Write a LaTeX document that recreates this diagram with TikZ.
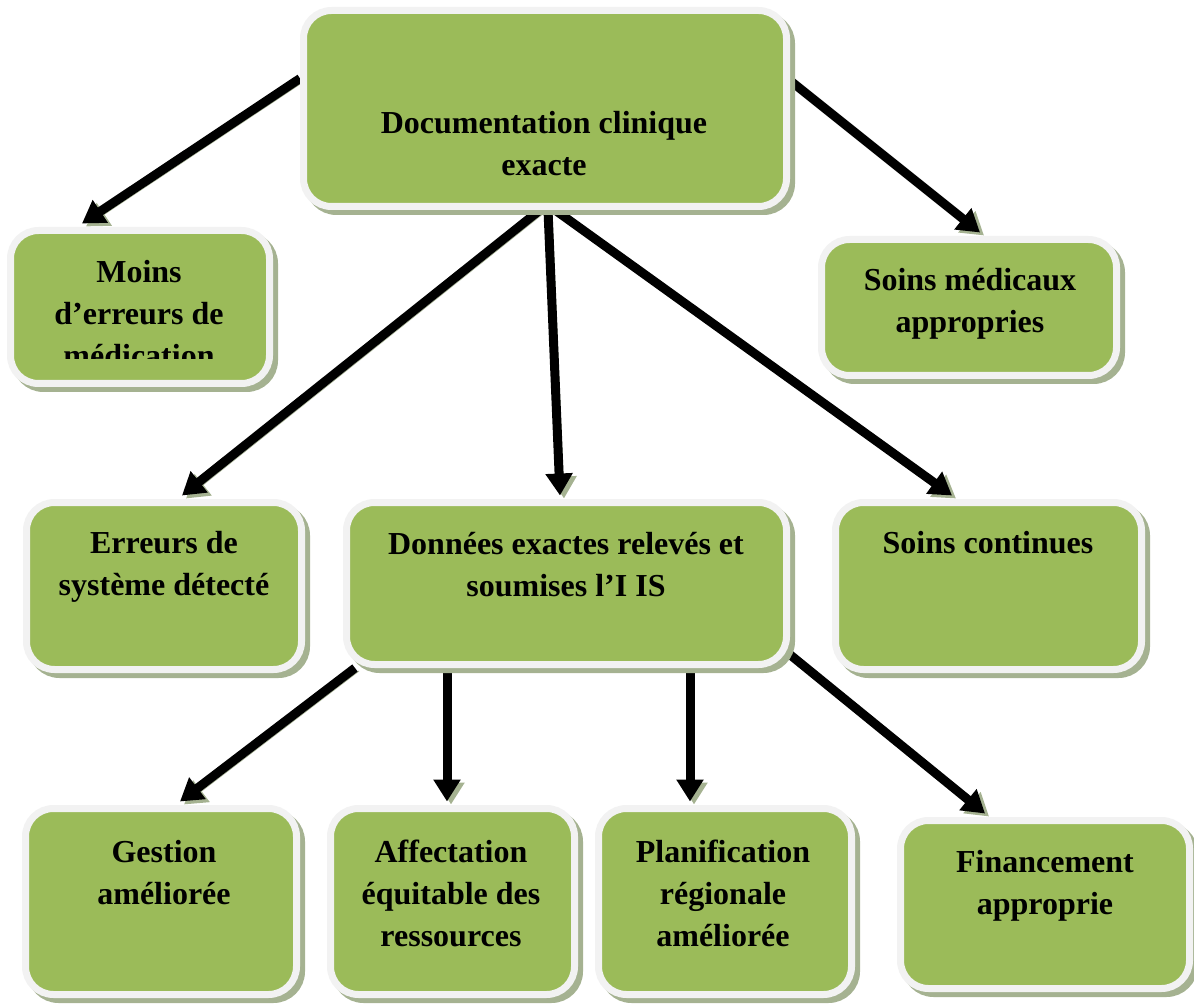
\documentclass[tikz,border=0pt]{standalone}
\usepackage{fontspec}
\setmainfont{Liberation Serif}
\usetikzlibrary{arrows.meta,backgrounds}
\definecolor{vert}{RGB}{155,187,89}
\definecolor{bord}{RGB}{242,242,242}
\definecolor{ombre}{RGB}{165,178,145}

\begin{document}
\begin{tikzpicture}[x=0.5pt,y=-0.5pt]
    \tikzstyle{bloc} = [rectangle, rounded corners=14pt, fill=vert, draw=bord, line width=3.5pt, inner sep=0pt,
        preaction={fill=ombre, draw=ombre, transform canvas={shift={(2.5pt,-2.5pt)}}}]
    \tikzstyle{txt} = [align=center, inner sep=0pt, anchor=north, font=\fontsize{16}{21}\selectfont\bfseries]
    \tikzstyle{fleche} = [line width=4.5pt, -{Triangle[length=11pt,width=13pt]},
        preaction={draw=ombre, transform canvas={shift={(2pt,-1.5pt)}}}]

    \useasboundingbox (0,0) rectangle (1194,1005);

    % blocs
    \node[bloc, minimum width=241.5pt, minimum height=98pt] (doc) at (545,108.5) {};
    \node[bloc, minimum width=129.5pt, minimum height=76.5pt] (moins) at (140,307) {};
    \node[bloc, minimum width=147.5pt, minimum height=68pt] (soinsmed) at (969,307.5) {};
    \node[bloc, minimum width=137.5pt, minimum height=83.5pt] (erreurs) at (164,586) {};
    \node[bloc, minimum width=220pt, minimum height=81pt] (donnees) at (566.5,583.5) {};
    \node[bloc, minimum width=153pt, minimum height=83.5pt] (soinscont) at (988.5,586) {};
    \node[bloc, minimum width=135.5pt, minimum height=93pt] (gestion) at (161,901.5) {};
    \node[bloc, minimum width=122pt, minimum height=93pt] (affect) at (452.5,901.5) {};
    \node[bloc, minimum width=126.5pt, minimum height=93pt] (planif) at (725,901.5) {};
    \node[bloc, minimum width=144.5pt, minimum height=84pt] (financ) at (1045,904.5) {};

    % textes
    \node[txt] (docT) at (544,103.6) {\strut Documentation clinique\\exacte};
    \begin{scope}
        \clip (0,0) rectangle (1194,359);
        \node[txt] (moinsT) at (139,252.3) {\strut Moins\\d’erreurs de\\médication};
    \end{scope}
    \node[txt] (soinsmedT) at (970,260.6) {\strut Soins médicaux\\appropries};
    \node[txt] (erreursT) at (164,523.6) {\strut Erreurs de\\système détecté};
    \node[txt] (donneesT) at (566,524.6) {\strut Données exactes relevés et\\soumises l’I IS};
    \node[txt] (soinscontT) at (988,523.6) {\strut Soins continues};
    \node[txt] (gestionT) at (164,832.6) {\strut Gestion\\améliorée};
    \node[txt] (affectT) at (451,832.6) {\strut Affectation\\équitable des\\ressources};
    \node[txt] (planifT) at (723,832.6) {\strut Planification\\régionale\\améliorée};
    \node[txt] (financT) at (1045,842.6) {\strut Financement\\approprie};

    % flèches
    \begin{scope}[on background layer]
        \draw[fleche] ([yshift=15pt]doc.west) -- ([xshift=-29pt,yshift=1.75pt]moins.north);
        \draw[fleche] ([yshift=14pt]doc.east) -- ([xshift=5.5pt,yshift=1.75pt]soinsmed.north);
        \draw[fleche] ([xshift=-2.5pt]doc.south) -- ([xshift=9pt,yshift=1.75pt]erreurs.north);
        \draw[fleche] ([xshift=1.5pt]doc.south) -- ([xshift=-3.25pt,yshift=1.75pt]donnees.north);
        \draw[fleche] ([xshift=5pt]doc.south) -- ([xshift=-18.25pt,yshift=1.75pt]soinscont.north);
        \draw[fleche] ([xshift=6pt]donnees.south west) -- ([xshift=9.5pt,yshift=1.75pt]gestion.north);
        \draw[fleche] ([xshift=-2.75pt]affect.north |- donnees.south) -- ([xshift=-2.75pt,yshift=1.75pt]affect.north);
        \draw[fleche] ([xshift=-17.5pt]planif.north |- donnees.south) -- ([xshift=-17.5pt,yshift=1.75pt]planif.north);
        \draw[fleche] ([xshift=-5pt,yshift=10.75pt]donnees.south east) -- ([xshift=-30pt,yshift=1.75pt]financ.north);
    \end{scope}
\end{tikzpicture}
\end{document}
